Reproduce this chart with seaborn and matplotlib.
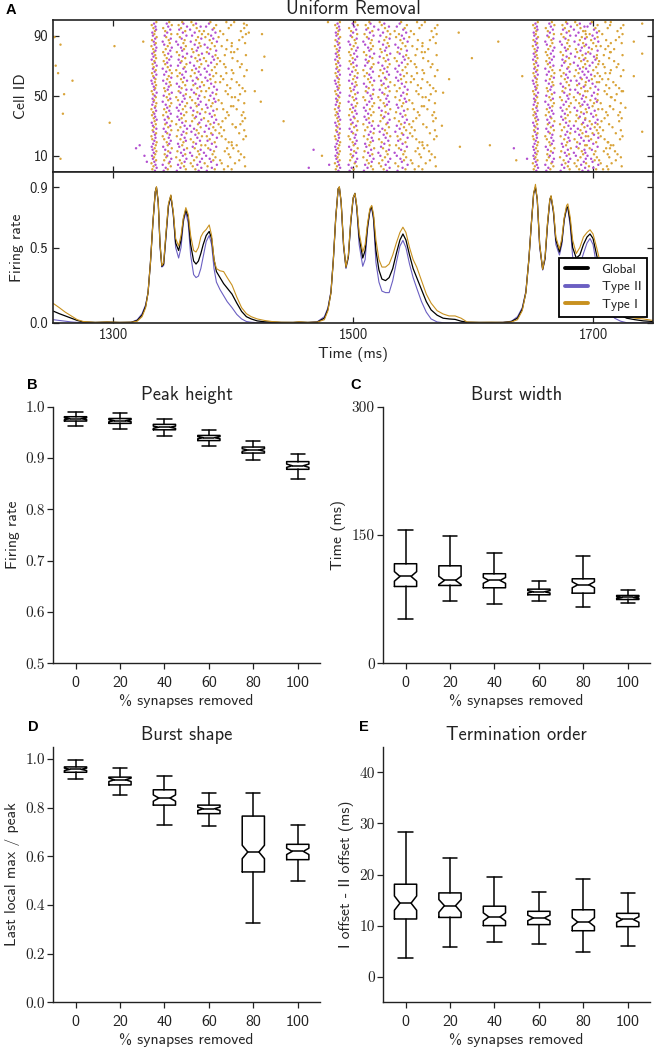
import matplotlib
matplotlib.use("Agg")
import matplotlib.pyplot as plt
import pandas as pd
import seaborn as sns

# ---------------- panel A: firing-rate traces ----------------
rate_time = [1250, 1255, 1260, 1265, 1270, 1275, 1285, 1295, 1305, 1315,
             1320, 1324, 1327, 1329, 1331, 1333, 1335, 1336, 1337.5, 1339,
             1340.5, 1342, 1344, 1346, 1348, 1350, 1352, 1354.5, 1356.5, 1358.5,
             1360.5, 1362.5, 1364.5, 1367, 1369, 1371, 1373, 1375, 1377.5, 1380,
             1382, 1384, 1386, 1389, 1392, 1395, 1399, 1403, 1407, 1411,
             1415, 1420, 1426, 1432, 1440, 1450, 1455, 1462,
             1470, 1476, 1479, 1481.5, 1483.5, 1485.5, 1487.5, 1488.5, 1490, 1492,
             1494, 1496, 1498, 1500, 1501.5, 1503, 1505, 1508, 1510, 1512,
             1514, 1515.5, 1517, 1519, 1521.5, 1524, 1527, 1530, 1533, 1536,
             1539, 1541.5, 1544, 1547, 1550, 1553, 1557, 1561, 1565, 1570,
             1575, 1580, 1585, 1590, 1595, 1605, 1615, 1625,
             1632, 1637, 1641, 1644, 1646.5, 1648.5, 1650.5, 1652, 1653.5, 1655.5,
             1658, 1660, 1662, 1664, 1665, 1667, 1669, 1672, 1674, 1676,
             1678, 1679, 1681, 1683, 1686, 1689, 1692, 1695, 1697.5, 1700,
             1703, 1706, 1710, 1714, 1718, 1723, 1728, 1735, 1742, 1750]

rate_type1 = [.128, .10, .07, .045, .02, .008, .002, .005, .002, .003,
              .01, .04, .10, .2, .4, .66, .87, .905, .8, .52,
              .38, .4, .6, .79, .85, .74, .56, .51, .58, .7,
              .765, .72, .58, .48, .47, .5, .57, .6, .62, .65,
              .58, .42, .36, .345, .34, .3, .25, .17, .1, .06,
              .04, .025, .015, .008, .003, .002, .006, .002,
              .004, .02, .08, .2, .42, .7, .89, .905, .8, .52,
              .37, .45, .68, .83, .86, .78, .6, .47, .52, .66,
              .76, .78, .72, .55, .42, .37, .37, .39, .45, .53,
              .6, .635, .6, .5, .42, .37, .28, .19, .13, .08,
              .058, .045, .045, .03, .005, .002, .003, .002,
              .005, .02, .08, .2, .42, .65, .86, .92, .82, .52,
              .355, .44, .66, .82, .845, .75, .57, .49, .56, .7,
              .78, .79, .7, .55, .46, .5, .57, .6, .618, .59,
              .5, .4, .3, .2, .12, .07, .045, .03, .025, .015]

rate_global = [.077, .06, .045, .03, .015, .005, .002, .004, .002, .003,
               .015, .05, .11, .2, .4, .66, .87, .9, .8, .52,
               .375, .39, .59, .78, .845, .73, .53, .48, .55, .69,
               .75, .7, .52, .41, .39, .41, .46, .52, .58, .607,
               .56, .42, .34, .30, .26, .23, .19, .13, .075, .04,
               .025, .012, .006, .004, .002, .002, .004, .002,
               .004, .03, .09, .2, .42, .7, .89, .9, .8, .52,
               .37, .44, .67, .83, .86, .77, .57, .43, .48, .64,
               .75, .77, .7, .48, .35, .29, .28, .3, .36, .46,
               .55, .59, .55, .45, .36, .30, .22, .14, .085, .05,
               .03, .025, .022, .01, .003, .002, .002, .002,
               .008, .03, .09, .2, .42, .65, .86, .9, .82, .52,
               .355, .43, .65, .82, .84, .74, .55, .47, .54, .69,
               .765, .77, .67, .5, .43, .45, .52, .57, .59, .56,
               .45, .35, .25, .15, .09, .05, .03, .02, .012, .008]

rate_type2 = [.02, .015, .01, .005, .002, 0, 0, .002, 0, .002,
              .02, .06, .12, .2, .4, .66, .87, .9, .8, .5,
              .37, .38, .57, .77, .84, .72, .5, .43, .5, .67,
              .735, .66, .45, .32, .30, .31, .36, .44, .54, .58,
              .52, .36, .27, .22, .18, .14, .10, .055, .025, .008,
              .003, 0, 0, 0, 0, 0, .002, 0,
              .006, .04, .1, .21, .42, .7, .89, .9, .8, .5,
              .36, .43, .66, .82, .855, .76, .52, .375, .42, .62,
              .74, .76, .68, .4, .27, .21, .2, .2, .28, .4,
              .51, .547, .5, .39, .3, .23, .14, .07, .025, .005,
              0, 0, 0, 0, 0, 0, 0, .002,
              .01, .04, .1, .21, .42, .65, .86, .9, .82, .5,
              .35, .42, .64, .81, .835, .73, .52, .45, .52, .68,
              .755, .76, .64, .44, .37, .38, .46, .53, .56, .52,
              .38, .25, .15, .07, .03, .01, 0, 0, 0, 0]

# ---------------- panel A: raster ----------------
burst_waves = [[1334, 1345, 1357, 1369, 1381, 1393, 1405],
               [1487, 1500, 1513, 1526, 1540, 1552, 1564],
               [1652, 1664, 1677, 1689, 1699, 1709, 1719]]
wave_spread = [2.4, 4.2, 5.0, 5.5, 6.0, 6.5, 7.0]   # ms
type2_waves = 5                                      # type II cells stop earlier
cell_lag = [0.3, -0.6, 0.9, -0.2, 0.5, -0.9, 0.1, 0.7, -0.4, 0.0,
            -0.7, 0.4, -0.1, 0.8, -0.5, 0.2, -0.8, 0.6, -0.3, 0.9,
            0.1, -0.6, 0.5, -0.9, 0.3, 0.7, -0.2, -0.5, 0.8, 0.0,
            -0.4, 0.6, -0.8, 0.2, 0.9, -0.1, 0.4, -0.7, 0.1, -0.3,
            0.7, -0.9, 0.3, 0.5, -0.6, 0.8, -0.2, 0.0, -0.5, 0.6,
            0.2, -0.4, 0.9, -0.8, 0.1, 0.4, -0.1, 0.7, -0.6, 0.3,
            -0.9, 0.5, 0.0, -0.3, 0.8, -0.7, 0.2, 0.6, -0.4, -0.1,
            0.9, -0.5, 0.3, 0.1, -0.8, 0.7, -0.2, 0.4, -0.6, 0.0,
            0.5, -0.3, 0.8, -0.9, 0.2, 0.6, -0.1, -0.7, 0.4, 0.9,
            -0.4, 0.1, -0.6, 0.3, 0.7, -0.2, 0.5, -0.8, 0.0, 0.8]
stray_t1_time = [1251, 1256, 1252, 1254, 1266, 1259, 1258, 1256, 1301, 1297,
                 1325, 1409, 1413, 1424, 1426, 1424, 1418, 1423, 1402, 1406,
                 1442, 1474, 1479, 1588, 1621, 1599, 1580, 1641, 1575, 1574,
                 1589, 1614, 1636, 1741, 1734, 1741, 1734, 1741, 1727, 1725]
stray_t1_cell = [89, 84, 70, 65, 60, 51, 38, 8, 83, 32,
                 86, 98, 92, 91, 76, 67, 53, 46, 29, 31,
                 33, 10, 99, 92, 86, 75, 61, 63, 52, 30,
                 16, 17, 7, 98, 86, 78, 63, 26, 42, 53]
stray_t2_time = [1467, 1463, 1319, 1322, 1326, 1328, 1634, 1480, 1645]
stray_t2_cell = [14, 2, 15, 17, 10, 6, 15, 4, 8]

# ---------------- panels B-E: box statistics ----------------
removed = ["0", "20", "40", "60", "80", "100"]

peak_med = [0.9766, 0.9727, 0.960, 0.9396, 0.9156, 0.885]
peak_q1 = [0.972, 0.9675, 0.955, 0.934, 0.9097, 0.878]
peak_q3 = [0.9805, 0.977, 0.9656, 0.944, 0.9214, 0.893]
peak_cilo = [0.9748, 0.9707, 0.9578, 0.9375, 0.9131, 0.8818]
peak_cihi = [0.9784, 0.9747, 0.9622, 0.9417, 0.9181, 0.8882]
peak_wlo = [0.963, 0.957, 0.9435, 0.924, 0.896, 0.860]
peak_whi = [0.989, 0.988, 0.977, 0.9545, 0.934, 0.9084]

width_med = [101.6, 96.9, 96.9, 83.6, 91.8, 77.0]
width_q1 = [89.8, 91.0, 88.3, 80.1, 82.0, 74.6]
width_q3 = [116.4, 114.0, 104.7, 86.7, 98.8, 79.3]
width_cilo = [96.0, 92.1, 93.5, 82.2, 88.3, 76.0]
width_cihi = [107.2, 101.7, 100.3, 85.0, 95.3, 78.0]
width_wlo = [52.0, 73.0, 68.8, 72.7, 66.4, 70.3]
width_whi = [155.5, 148.8, 128.9, 95.7, 125.0, 85.2]

shape_med = [0.957, 0.914, 0.839, 0.795, 0.6175, 0.620]
shape_q1 = [0.945, 0.893, 0.810, 0.775, 0.5355, 0.586]
shape_q3 = [0.967, 0.925, 0.873, 0.810, 0.765, 0.649]
shape_cilo = [0.952, 0.907, 0.826, 0.788, 0.590, 0.607]
shape_cihi = [0.962, 0.921, 0.852, 0.802, 0.645, 0.633]
shape_wlo = [0.917, 0.852, 0.728, 0.724, 0.327, 0.497]
shape_whi = [0.996, 0.963, 0.929, 0.858, 0.859, 0.727]

order_med = [14.4, 13.9, 11.7, 11.5, 10.7, 11.2]
order_q1 = [11.3, 11.6, 10.0, 10.2, 9.0, 9.8]
order_q3 = [18.1, 16.4, 13.8, 12.8, 13.1, 12.4]
order_cilo = [13.0, 12.6, 10.9, 10.95, 9.84, 10.65]
order_cihi = [15.8, 15.1, 12.5, 12.05, 11.56, 11.75]
order_wlo = [3.7, 5.8, 6.8, 6.5, 4.8, 6.0]
order_whi = [28.4, 23.3, 19.5, 16.6, 19.2, 16.3]

C_GLOBAL, C_T2, C_T1 = "#000000", "#6b5fc2", "#c8911f"
DOT_T2, DOT_T1 = "#b24fd0", "#d9a43a"

sns.set_style("ticks")
plt.rcParams["font.family"] = ["cmss10", "DejaVu Sans"]
plt.rcParams["axes.unicode_minus"] = False
plt.rcParams["axes.edgecolor"] = "#222222"
plt.rcParams["text.color"] = "#222222"
plt.rcParams["xtick.color"] = "#222222"
plt.rcParams["ytick.color"] = "#222222"
SERIF = ["cmr10", "DejaVu Serif"]

W, H = 654, 1050
fig = plt.figure(figsize=(W / 100, H / 100), dpi=100)


def box(x0, y0, x1, y1):
    return [x0 / W, 1 - y1 / H, (x1 - x0) / W, (y1 - y0) / H]


ax_r = fig.add_axes(box(53.3, 20, 653, 172.3))
ax_f = fig.add_axes(box(53.3, 172.3, 653, 322.7), sharex=ax_r)

# raster
spikes = []
for waves in burst_waves:
    for w, (t0, sp) in enumerate(zip(waves, wave_spread)):
        for cell in range(100):
            kind = "Type II" if cell % 2 == 0 else "Type I"
            if kind == "Type II" and w >= type2_waves:
                continue
            spikes.append((t0 + sp * cell_lag[(cell + 37 * w) % 100], cell, kind))
for t, c in zip(stray_t1_time, stray_t1_cell):
    spikes.append((t, c, "Type I"))
for t, c in zip(stray_t2_time, stray_t2_cell):
    spikes.append((t, c, "Type II"))
raster = pd.DataFrame(spikes, columns=["time", "cell", "kind"])
sns.scatterplot(data=raster, x="time", y="cell", hue="kind",
                palette={"Type I": DOT_T1, "Type II": DOT_T2},
                s=3, marker="o", linewidth=0, legend=False, ax=ax_r)
ax_r.set_ylim(-1, 100.4)
ax_r.set_yticks([10, 50, 90])
ax_r.set_ylabel("Cell ID", fontsize=11.3, labelpad=4)
ax_r.set_xlabel("")
ax_r.tick_params(labelbottom=False)
ax_r.set_title("Uniform Removal", fontsize=13.3, pad=4.3)

# firing rates
sns.lineplot(x=rate_time, y=rate_type2, color=C_T2, lw=0.8, ax=ax_f, label="Type II")
sns.lineplot(x=rate_time, y=rate_global, color=C_GLOBAL, lw=0.9, ax=ax_f, label="Global")
sns.lineplot(x=rate_time, y=rate_type1, color=C_T1, lw=0.8, ax=ax_f, label="Type I")
ax_f.set_xlim(1250, 1750)
ax_f.set_ylim(0, 1.0)
ax_f.set_xticks([1300, 1500, 1700])
ax_f.set_yticks([0.0, 0.5, 0.9])
ax_f.set_yticklabels(["0.0", "0.5", "0.9"])
ax_f.set_xlabel("Time (ms)", fontsize=11.3, labelpad=4)
ax_f.set_ylabel("Firing rate", fontsize=11.3, labelpad=4)
h, l = ax_f.get_legend_handles_labels()
hd = dict(zip(l, h))
leg = ax_f.legend([hd["Global"], hd["Type II"], hd["Type I"]], ["Global", "Type II", "Type I"],
                  loc="lower right", fontsize=9.5, fancybox=False, framealpha=1,
                  edgecolor="black", borderaxespad=0.45, handlelength=1.8,
                  handletextpad=1.0, labelspacing=0.4, borderpad=0.45)
leg.get_frame().set_linewidth(1.3)
for ln in leg.get_lines():
    ln.set_linewidth(2.8)

for ax in (ax_r, ax_f):
    ax.tick_params(direction="in", top=True, right=True, length=4, width=0.9,
                   labelsize=10.5)
    for sp in ax.spines.values():
        sp.set_linewidth(1.2)
        sp.set_color("#222222")

# box panels
panels = [
    (box(53.3, 406.7, 320, 663.3), "Peak height", "Firing rate", (0.5, 1.0),
     [0.5, 0.6, 0.7, 0.8, 0.9, 1.0], "{:.1f}",
     (peak_med, peak_q1, peak_q3, peak_cilo, peak_cihi, peak_wlo, peak_whi)),
    (box(383.3, 406.7, 650, 663.3), "Burst width", "Time (ms)", (0, 300),
     [0, 150, 300], "{:.0f}",
     (width_med, width_q1, width_q3, width_cilo, width_cihi, width_wlo, width_whi)),
    (box(53.3, 746.7, 320, 1002.3), "Burst shape", "Last local max / peak", (0, 1.05),
     [0.0, 0.2, 0.4, 0.6, 0.8, 1.0], "{:.1f}",
     (shape_med, shape_q1, shape_q3, shape_cilo, shape_cihi, shape_wlo, shape_whi)),
    (box(383.3, 746.7, 650, 1002.3), "Termination order", "I offset - II offset (ms)", (-5, 45),
     [0, 10, 20, 30, 40], "{:.0f}",
     (order_med, order_q1, order_q3, order_cilo, order_cihi, order_wlo, order_whi)),
]
line = dict(color="black", linewidth=1.1)
for rect, title, ylab, ylim, yt, fmt, st in panels:
    ax = fig.add_axes(rect)
    stats = [dict(med=m, q1=a, q3=b, cilo=c, cihi=d, whislo=e, whishi=f, fliers=[])
             for m, a, b, c, d, e, f in zip(*st)]
    ax.bxp(stats, positions=range(1, 7), widths=0.5, capwidths=0.32,
           shownotches=True, showfliers=False,
           boxprops=line, whiskerprops=line, capprops=line, medianprops=line)
    ax.set_xlim(0.5, 6.5)
    ax.set_ylim(*ylim)
    ax.set_xticks(range(1, 7), labels=removed, fontsize=11.5)
    ax.set_yticks(yt, labels=[fmt.format(v) for v in yt], fontsize=11, fontfamily=SERIF)
    ax.set_title(title, fontsize=13.3, pad=4.8)
    ax.set_xlabel("% synapses removed", fontsize=11.3, labelpad=3)
    ax.set_ylabel(ylab, fontsize=11.3, labelpad=4)
    ax.tick_params(direction="out", length=4, width=0.9)
    ax.tick_params(axis="y", pad=2)
    ax.tick_params(axis="x", pad=5)
    sns.despine(ax=ax)
    for sp in ax.spines.values():
        sp.set_linewidth(1.0)

for lab, x, y in [("A", 10.5, 10), ("B", 32.5, 385), ("C", 356, 385),
                  ("D", 33.8, 727), ("E", 364.3, 727)]:
    fig.text(x / W, 1 - y / H, lab, fontsize=10.5, fontweight="bold",
             family="Liberation Sans", ha="center", va="center", color="black")

fig.savefig("out.png", dpi=100)
